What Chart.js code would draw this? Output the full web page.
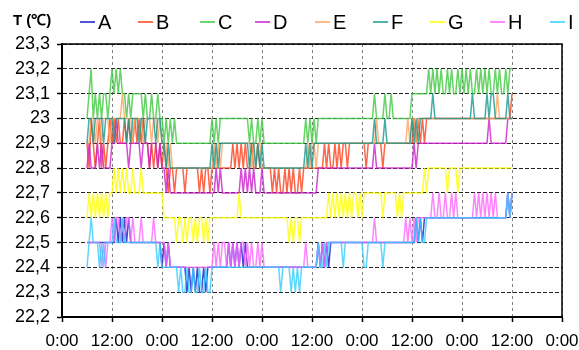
<!DOCTYPE html>
<html>
<head>
<meta charset="utf-8">
<script src="https://cdn.jsdelivr.net/npm/chart.js@4/dist/chart.umd.min.js"></script>
<style>
  html, body { margin: 0; padding: 0; background: #fff; }
</style>
</head>
<body>
<canvas id="tempChart" width="579" height="350"></canvas>
<script>
// samples every half hour, from 6:00 on day 1 to 12:00 on day 5
const startHour = 6;
const stepHours = 0.5;
const seriesNames = ["A", "B", "C", "D", "E", "F", "G", "H", "I"];
const seriesColors = ["#1a1acc", "#ff3f1a", "#3fc83f", "#cc1fcc", "#ffa35c", "#17998f", "#ffff00", "#ff66ff", "#33ccff"];
const yMin = 22.2;
const yMax = 23.3;

const tempA = [
  22.5,22.5,22.5,22.5,22.5,22.5, 22.5,22.5,22.5,22.5,22.5,22.5, 22.5,22.5,22.6,22.5,22.6,22.5, 22.6,22.5,22.6,22.5,22.5,22.5,
  22.5,22.5,22.5,22.5,22.5,22.5, 22.5,22.5,22.5,22.5,22.5,22.5, 22.4,22.5,22.4,22.5,22.4,22.4, 22.4,22.4,22.4,22.4,22.4,22.4,
  22.3,22.4,22.3,22.4,22.3,22.4, 22.3,22.3,22.4,22.3,22.4,22.4, 22.4,22.4,22.4,22.4,22.4,22.4, 22.4,22.4,22.5,22.4,22.5,22.4,
  22.5,22.4,22.5,22.4,22.5,22.4, 22.4,22.4,22.4,22.4,22.4,22.4, 22.4,22.4,22.4,22.4,22.4,22.4, 22.4,22.4,22.4,22.4,22.4,22.4,
  22.4,22.4,22.4,22.4,22.4,22.4, 22.4,22.4,22.4,22.4,22.4,22.4, 22.4,22.4,22.4,22.5,22.4,22.5, 22.4,22.5,22.4,22.5,22.5,22.5,
  22.5,22.5,22.5,22.5,22.5,22.5, 22.5,22.5,22.5,22.5,22.5,22.5, 22.5,22.5,22.5,22.5,22.5,22.5, 22.5,22.5,22.5,22.5,22.5,22.5,
  22.5,22.5,22.5,22.5,22.5,22.5, 22.5,22.5,22.5,22.5,22.5,22.5, 22.5,22.5,22.6,22.5,22.6,22.5, 22.6,22.6,22.6,22.6,22.6,22.6,
  22.6,22.6,22.6,22.6,22.6,22.6, 22.6,22.6,22.6,22.6,22.6,22.6, 22.6,22.6,22.6,22.6,22.6,22.6, 22.6,22.6,22.6,22.6,22.6,22.6,
  22.6,22.6,22.6,22.6,22.6,22.6, 22.6,22.6,22.6,22.6,22.7,22.6, 22.7
];
const tempB = [
  22.9,22.8,23.0,22.9,22.8,22.9, 23.0,22.8,22.9,22.8,22.9,23.0, 22.9,23.0,22.9,23.0,22.9,22.9, 23.0,22.9,23.0,22.9,22.9,23.0,
  22.9,23.0,22.9,23.0,22.9,22.9, 22.8,22.9,22.8,22.9,22.8,22.9, 22.8,22.9,22.8,22.7,22.8,22.8, 22.7,22.8,22.8,22.8,22.8,22.7,
  22.8,22.8,22.8,22.8,22.8,22.8, 22.7,22.8,22.7,22.8,22.8,22.7, 22.8,22.8,22.8,22.8,22.8,22.8, 22.8,22.8,22.8,22.8,22.9,22.8,
  22.9,22.8,22.9,22.8,22.9,22.8, 22.8,22.9,22.8,22.8,22.9,22.8, 22.8,22.8,22.8,22.8,22.8,22.7, 22.8,22.7,22.8,22.7,22.7,22.8,
  22.7,22.8,22.7,22.8,22.7,22.7, 22.8,22.7,22.8,22.8,22.8,22.8, 22.8,22.8,22.8,22.8,22.8,22.8, 22.9,22.8,22.9,22.8,22.8,22.9,
  22.8,22.9,22.8,22.9,22.9,22.8, 22.9,22.9,22.9,22.9,22.9,22.9, 22.9,22.9,22.8,22.9,22.9,22.9, 22.9,22.9,22.9,22.9,22.8,22.9,
  22.9,22.9,22.9,22.9,22.9,22.9, 22.9,22.9,22.9,22.9,22.9,22.9, 22.9,23.0,22.9,23.0,22.9,23.0, 22.9,23.0,23.0,23.0,23.0,23.0,
  23.0,23.0,23.0,23.0,23.0,23.0, 23.0,23.0,23.0,23.0,23.0,23.0, 23.0,23.0,23.0,23.0,23.0,23.0, 23.0,23.0,23.0,23.0,23.0,23.0,
  23.0,23.0,23.0,23.0,23.0,23.0, 23.0,23.0,23.0,23.0,23.0,23.0, 23.1
];
const tempC = [
  23.0,23.1,23.2,23.0,23.1,23.0, 23.1,23.0,23.1,23.1,23.0,23.1, 23.2,23.1,23.2,23.1,23.2,23.1, 23.1,23.0,23.1,23.0,23.1,23.1,
  23.1,23.1,23.1,23.0,23.1,23.0, 23.0,23.1,23.0,23.0,23.1,23.0, 23.0,22.9,23.0,22.9,23.0,22.9, 23.0,22.9,22.9,22.9,22.9,22.9,
  22.9,22.9,22.9,22.9,22.9,22.9, 22.9,22.9,22.9,22.9,22.9,22.9, 23.0,22.9,23.0,22.9,23.0,23.0, 23.0,23.0,23.0,23.0,23.0,23.0,
  23.0,23.0,23.0,23.0,23.0,23.0, 22.9,23.0,22.9,22.9,23.0,22.9, 23.0,22.9,22.9,22.9,22.9,22.9, 22.9,22.9,22.9,22.9,22.9,22.9,
  22.9,22.9,22.9,22.9,22.9,22.9, 22.9,22.9,22.9,23.0,22.9,23.0, 22.9,23.0,22.9,23.0,23.0,23.0, 23.0,23.0,23.0,23.0,23.0,23.0,
  23.0,23.0,23.0,23.0,23.0,23.0, 23.0,23.0,23.0,23.0,23.0,23.0, 23.0,23.0,23.0,23.0,23.0,23.0, 23.1,23.0,23.0,23.0,23.0,23.1,
  23.0,23.0,23.1,23.0,23.0,23.0, 23.0,23.0,23.0,23.0,23.0,23.0, 23.1,23.1,23.1,23.1,23.1,23.1, 23.1,23.1,23.2,23.1,23.2,23.1,
  23.2,23.1,23.2,23.1,23.1,23.2, 23.1,23.2,23.1,23.1,23.2,23.1, 23.2,23.1,23.2,23.1,23.2,23.1, 23.1,23.2,23.1,23.2,23.1,23.2,
  23.1,23.2,23.1,23.1,23.2,23.1, 23.2,23.1,23.1,23.2,23.1,23.2, 23.2
];
const tempD = [
  22.8,22.9,22.8,22.8,22.8,22.9, 22.8,22.9,22.8,22.8,22.8,22.8, 22.9,22.9,23.0,22.9,22.9,22.9, 22.9,22.9,22.8,22.9,22.9,22.9,
  22.9,22.9,22.8,22.9,22.9,22.9, 22.8,22.9,22.9,22.9,22.8,22.9, 22.8,22.8,22.7,22.8,22.7,22.7, 22.7,22.7,22.7,22.7,22.7,22.7,
  22.7,22.7,22.7,22.7,22.7,22.7, 22.7,22.7,22.7,22.7,22.7,22.7, 22.7,22.7,22.8,22.7,22.8,22.7, 22.7,22.7,22.7,22.7,22.7,22.7,
  22.7,22.7,22.8,22.7,22.8,22.7, 22.8,22.7,22.8,22.7,22.7,22.7, 22.8,22.7,22.7,22.7,22.7,22.7, 22.7,22.7,22.7,22.7,22.7,22.7,
  22.7,22.7,22.7,22.7,22.7,22.7, 22.7,22.7,22.7,22.7,22.7,22.7, 22.7,22.7,22.7,22.8,22.8,22.8, 22.8,22.8,22.8,22.8,22.8,22.8,
  22.8,22.8,22.8,22.8,22.8,22.8, 22.8,22.8,22.8,22.8,22.8,22.8, 22.8,22.8,22.8,22.8,22.8,22.8, 22.9,22.8,22.8,22.8,22.8,22.8,
  22.8,22.8,22.8,22.8,22.8,22.8, 22.8,22.8,22.8,22.8,22.8,22.8, 22.8,22.9,22.8,22.9,22.9,22.9, 22.9,22.9,22.9,22.9,22.9,22.9,
  22.9,22.9,22.9,22.9,22.9,22.9, 22.9,22.9,22.9,22.9,22.9,22.9, 22.9,22.9,22.9,22.9,22.9,22.9, 22.9,22.9,22.9,22.9,22.9,22.9,
  22.9,23.0,22.9,22.9,22.9,22.9, 22.9,22.9,22.9,22.9,23.0,23.0, 23.0
];
const tempE = [
  22.9,22.9,23.0,23.0,22.9,23.0, 23.0,22.9,23.0,23.0,23.0,22.9, 23.0,23.0,23.0,23.0,23.0,23.1, 23.0,23.0,23.0,23.0,22.9,23.0,
  23.0,23.0,23.0,22.9,23.0,23.0, 23.0,22.9,23.0,23.0,22.9,23.0, 22.9,22.9,22.9,22.8,22.9,22.8, 22.8,22.8,22.8,22.8,22.8,22.8,
  22.8,22.8,22.8,22.8,22.8,22.8, 22.8,22.8,22.8,22.8,22.8,22.8, 22.8,22.9,22.8,22.9,22.8,22.9, 22.9,22.9,22.9,22.9,22.9,22.9,
  22.9,22.9,22.9,22.9,22.9,22.9, 22.9,22.8,22.9,22.8,22.9,22.9, 22.8,22.8,22.8,22.8,22.8,22.8, 22.8,22.8,22.8,22.8,22.8,22.8,
  22.8,22.8,22.8,22.8,22.8,22.8, 22.8,22.8,22.8,22.8,22.9,22.8, 22.9,22.9,22.8,22.9,22.9,22.9, 22.9,22.9,22.9,22.9,22.9,22.9,
  22.9,22.9,22.9,22.9,22.9,22.9, 22.9,22.9,22.9,22.9,22.9,22.9, 22.9,22.9,22.9,22.9,22.9,22.9, 22.9,23.0,22.9,22.9,22.9,22.9,
  22.9,22.9,22.9,22.9,22.9,22.9, 22.9,22.9,22.9,22.9,23.0,22.9, 23.0,23.0,22.9,23.0,23.0,23.0, 23.0,23.0,23.0,23.0,23.0,23.0,
  23.0,23.0,23.0,23.0,23.0,23.0, 23.0,23.0,23.0,23.0,23.0,23.0, 23.0,23.0,23.0,23.0,23.0,23.0, 23.0,23.0,23.0,23.0,23.0,23.0,
  23.0,23.0,23.0,23.0,23.0,23.1, 23.0,23.0,23.0,23.0,23.0,23.0, 23.0
];
const tempF = [
  22.9,23.0,23.0,22.9,23.0,23.0, 23.0,23.0,22.9,23.0,23.0,23.0, 23.0,22.9,23.0,23.0,23.0,23.0, 23.0,22.9,23.0,22.9,23.0,23.0,
  23.0,22.9,23.0,23.0,22.9,23.0, 23.0,23.0,23.0,22.9,23.0,23.0, 22.9,22.9,22.8,22.9,22.8,22.8, 22.8,22.8,22.8,22.8,22.8,22.8,
  22.8,22.8,22.8,22.8,22.8,22.8, 22.8,22.8,22.8,22.8,22.8,22.8, 22.9,22.8,22.9,22.8,22.9,22.9, 22.9,22.9,22.9,22.9,22.9,22.9,
  22.9,22.9,22.9,22.9,22.9,22.9, 22.8,22.9,22.9,22.8,22.9,22.8, 22.9,22.8,22.8,22.8,22.8,22.8, 22.8,22.8,22.8,22.8,22.8,22.8,
  22.8,22.8,22.8,22.8,22.8,22.8, 22.8,22.8,22.8,22.9,22.8,22.9, 22.8,22.9,22.9,22.9,22.9,22.9, 22.9,22.9,22.9,22.9,22.9,22.9,
  22.9,22.9,22.9,22.9,22.9,22.9, 22.9,22.9,22.9,22.9,22.9,22.9, 22.9,22.9,22.9,22.9,22.9,22.9, 23.0,22.9,22.9,22.9,22.9,23.0,
  22.9,22.9,22.9,22.9,22.9,22.9, 22.9,22.9,22.9,22.9,22.9,22.9, 23.0,22.9,23.0,22.9,23.0,23.0, 23.0,23.0,23.0,23.0,23.1,23.0,
  23.0,23.0,23.0,23.0,23.0,23.0, 23.0,23.0,23.0,23.0,23.0,23.0, 23.0,23.0,23.0,23.0,23.0,23.1, 23.0,23.0,23.0,23.0,23.0,23.0,
  23.1,23.0,23.1,23.1,23.0,23.0, 23.0,23.0,23.0,23.0,23.1,23.0, 23.0
];
const tempG = [
  22.6,22.7,22.6,22.7,22.6,22.7, 22.6,22.7,22.6,22.7,22.6,22.7, 22.7,22.8,22.7,22.8,22.7,22.8, 22.7,22.8,22.7,22.7,22.8,22.7,
  22.7,22.7,22.8,22.7,22.7,22.7, 22.7,22.7,22.7,22.7,22.7,22.7, 22.7,22.6,22.6,22.6,22.6,22.6, 22.6,22.5,22.6,22.6,22.5,22.6,
  22.5,22.6,22.6,22.5,22.6,22.5, 22.6,22.6,22.5,22.6,22.5,22.6, 22.6,22.6,22.6,22.6,22.6,22.6, 22.6,22.6,22.6,22.6,22.6,22.6,
  22.6,22.7,22.6,22.6,22.6,22.6, 22.6,22.6,22.6,22.6,22.6,22.6, 22.6,22.6,22.6,22.6,22.6,22.6, 22.6,22.6,22.6,22.6,22.6,22.6,
  22.6,22.5,22.6,22.5,22.6,22.6, 22.5,22.6,22.6,22.6,22.6,22.6, 22.6,22.6,22.6,22.6,22.6,22.6, 22.6,22.6,22.7,22.6,22.7,22.6,
  22.7,22.6,22.7,22.6,22.7,22.6, 22.7,22.6,22.7,22.7,22.6,22.7, 22.6,22.7,22.7,22.7,22.7,22.7, 22.7,22.7,22.7,22.7,22.6,22.7,
  22.7,22.7,22.7,22.7,22.7,22.6, 22.7,22.6,22.7,22.7,22.7,22.7, 22.7,22.7,22.7,22.7,22.7,22.7, 22.8,22.7,22.8,22.8,22.8,22.8,
  22.8,22.8,22.8,22.8,22.8,22.7, 22.8,22.8,22.8,22.8,22.7,22.8, 22.8,22.8,22.8,22.8,22.8,22.8, 22.8,22.8,22.8,22.8,22.8,22.8,
  22.8,22.8,22.8,22.8,22.8,22.8, 22.8,22.8,22.8,22.8,22.8,22.8, 22.8
];
const tempH = [
  22.5,22.5,22.5,22.5,22.5,22.5, 22.5,22.4,22.5,22.4,22.5,22.5, 22.6,22.5,22.6,22.6,22.5,22.6, 22.5,22.6,22.6,22.5,22.6,22.5,
  22.5,22.5,22.6,22.5,22.5,22.5, 22.5,22.5,22.6,22.5,22.5,22.5, 22.5,22.5,22.4,22.5,22.4,22.4, 22.4,22.4,22.4,22.4,22.4,22.4,
  22.4,22.4,22.4,22.4,22.4,22.4, 22.4,22.4,22.4,22.4,22.4,22.4, 22.4,22.5,22.4,22.5,22.4,22.5, 22.5,22.4,22.5,22.4,22.5,22.4,
  22.5,22.4,22.5,22.5,22.4,22.5, 22.4,22.5,22.4,22.4,22.5,22.4, 22.5,22.4,22.4,22.4,22.4,22.4, 22.4,22.4,22.4,22.4,22.4,22.4,
  22.4,22.4,22.4,22.4,22.4,22.4, 22.4,22.4,22.4,22.5,22.4,22.4, 22.4,22.4,22.4,22.5,22.4,22.5, 22.4,22.5,22.5,22.5,22.5,22.5,
  22.5,22.5,22.5,22.5,22.5,22.5, 22.5,22.5,22.5,22.5,22.5,22.5, 22.5,22.5,22.5,22.5,22.5,22.5, 22.6,22.5,22.5,22.5,22.5,22.5,
  22.5,22.5,22.5,22.5,22.5,22.5, 22.5,22.5,22.5,22.6,22.5,22.6, 22.5,22.6,22.5,22.6,22.6,22.6, 22.6,22.6,22.6,22.6,22.7,22.6,
  22.6,22.7,22.6,22.6,22.7,22.6, 22.6,22.7,22.6,22.7,22.6,22.6, 22.6,22.6,22.6,22.6,22.6,22.6, 22.7,22.6,22.7,22.6,22.7,22.6,
  22.7,22.6,22.7,22.6,22.7,22.6, 22.6,22.6,22.6,22.6,22.7,22.6, 22.7
];
const tempI = [
  22.4,22.5,22.6,22.5,22.5,22.5, 22.4,22.5,22.4,22.5,22.5,22.5, 22.5,22.6,22.5,22.5,22.5,22.6, 22.5,22.5,22.5,22.5,22.5,22.5,
  22.5,22.5,22.5,22.5,22.5,22.5, 22.5,22.5,22.5,22.5,22.4,22.5, 22.4,22.4,22.4,22.4,22.4,22.4, 22.4,22.4,22.3,22.4,22.3,22.3,
  22.4,22.3,22.3,22.4,22.3,22.3, 22.4,22.3,22.3,22.4,22.3,22.3, 22.4,22.4,22.4,22.4,22.4,22.4, 22.4,22.4,22.4,22.4,22.4,22.4,
  22.4,22.4,22.4,22.4,22.4,22.4, 22.4,22.4,22.4,22.4,22.4,22.4, 22.4,22.4,22.4,22.4,22.4,22.4, 22.4,22.4,22.4,22.3,22.4,22.4,
  22.4,22.4,22.3,22.4,22.3,22.4, 22.3,22.4,22.4,22.4,22.4,22.4, 22.4,22.4,22.4,22.5,22.4,22.4, 22.5,22.4,22.5,22.5,22.5,22.5,
  22.5,22.5,22.5,22.4,22.5,22.5, 22.5,22.5,22.5,22.5,22.5,22.5, 22.5,22.4,22.4,22.5,22.5,22.5, 22.5,22.5,22.5,22.5,22.4,22.5,
  22.5,22.5,22.5,22.5,22.5,22.5, 22.5,22.5,22.5,22.5,22.5,22.5, 22.5,22.5,22.6,22.5,22.6,22.5, 22.5,22.6,22.6,22.6,22.6,22.6,
  22.6,22.6,22.6,22.6,22.6,22.6, 22.6,22.6,22.6,22.6,22.6,22.6, 22.6,22.6,22.6,22.6,22.6,22.6, 22.6,22.6,22.6,22.6,22.6,22.6,
  22.6,22.6,22.6,22.6,22.6,22.6, 22.6,22.6,22.6,22.6,22.7,22.6, 22.7
];

const allSeries = [tempA, tempB, tempC, tempD, tempE, tempF, tempG, tempH, tempI];
const fontFamily = "'Liberation Sans', Arial, sans-serif";

function hexToRgba(hex, a) {
    const n = parseInt(hex.slice(1), 16);
    return "rgba(" + (n >> 16) + "," + ((n >> 8) & 255) + "," + (n & 255) + "," + a + ")";
}

// frame on top/right plus the legend row at the top
const frameLegend = {
    id: "frameLegend",
    afterDraw(chart) {
        const ctx = chart.ctx;
        const area = chart.chartArea;
        ctx.save();
        ctx.strokeStyle = "#000";
        ctx.lineWidth = 1.5;
        ctx.beginPath();
        ctx.moveTo(area.left, area.top);
        ctx.lineTo(area.right, area.top);
        ctx.lineTo(area.right, area.bottom);
        ctx.stroke();

        ctx.fillStyle = "#000";
        ctx.textBaseline = "middle";
        ctx.font = "bold 15px " + fontFamily;
        ctx.fillText("T (\u2103)", 13, 21);

        const itemX = [80, 138, 200, 255, 315, 373, 430, 490, 550];
        ctx.font = "20px " + fontFamily;
        seriesNames.forEach((name, i) => {
            ctx.strokeStyle = seriesColors[i];
            ctx.lineWidth = 1.5;
            ctx.beginPath();
            ctx.moveTo(itemX[i], 22);
            ctx.lineTo(itemX[i] + 15, 22);
            ctx.stroke();
            ctx.fillText(name, itemX[i] + 18, 23);
        });
        ctx.restore();
    },
};

const datasets = allSeries.map((vals, i) => ({
    label: seriesNames[i],
    data: vals.map((v, k) => ({ x: startHour + k * stepHours, y: v })),
    borderColor: hexToRgba(seriesColors[i], 0.8),
    borderWidth: 1.5,
    pointRadius: 0,
    tension: 0,
    fill: false,
    order: allSeries.length - i,
}));

new Chart(document.getElementById("tempChart").getContext("2d"), {
    type: "line",
    data: { datasets: datasets },
    options: {
        responsive: false,
        animation: false,
        layout: { padding: { top: 44, right: 17, left: 0, bottom: 0 } },
        plugins: {
            legend: { display: false },
            tooltip: { enabled: false },
        },
        scales: {
            x: {
                type: "linear",
                min: 0,
                max: 120,
                afterFit: (scale) => {
                    scale.height = 33;
                    scale.paddingLeft = 0;
                    scale.paddingRight = 0;
                },
                ticks: {
                    stepSize: 12,
                    autoSkip: false,
                    maxRotation: 0,
                    padding: 9,
                    color: "#000",
                    font: { family: fontFamily, size: 17 },
                    callback: (v) => (v % 24 === 0 ? "0:00" : "12:00"),
                },
                grid: { color: "#808080", lineWidth: 1, tickLength: 5, tickColor: "#000", tickWidth: 1.5 },
                border: { color: "#000", width: 2, dash: [3, 3] },
            },
            y: {
                min: yMin,
                max: yMax,
                afterFit: (scale) => { scale.width = 62; },
                ticks: {
                    stepSize: 0.1,
                    padding: 7,
                    color: "#000",
                    font: { family: fontFamily, size: 18 },
                    callback: (v) => String(Math.round(v * 10) / 10).replace(".", ","),
                },
                grid: { color: "#222", lineWidth: 1, tickLength: 5, tickColor: "#000", tickWidth: 1.5 },
                border: { color: "#000", width: 2, dash: [4, 2] },
            },
        },
    },
    plugins: [frameLegend],
});
</script>
</body>
</html>
